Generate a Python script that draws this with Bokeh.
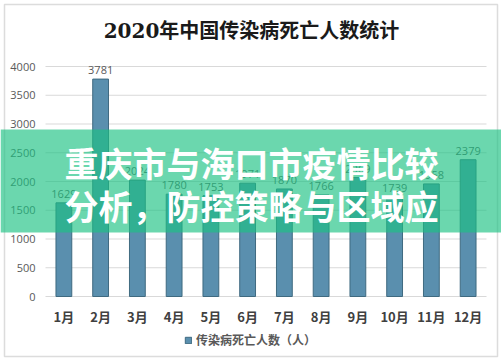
from bokeh.plotting import figure
from bokeh.models import (ColumnDataSource, Range1d, FixedTicker, BoxAnnotation,
                          Label, Legend, LegendItem)
from bokeh.core.properties import value
from bokeh.embed import file_html
from bokeh.resources import INLINE

# ---- data ----
months = ["1月", "2月", "3月", "4月", "5月", "6月", "7月", "8月", "9月", "10月", "11月", "12月"]
deaths = [1629, 3781, 2024, 1780, 1753, 1971, 1870, 1766, 2069, 1739, 1958, 2379]
y_ticks = [0, 500, 1000, 1500, 2000, 2500, 3000, 3500, 4000]
title_text = "2020年中国传染病死亡人数统计"
series_name = "传染病死亡人数（人）"
overlay_line1 = "重庆市与海口市疫情比较"
overlay_line2 = "分析，防控策略与区域应"

# ---- layout (page pixels) ----
W, H = 501, 362
PLOT_L, PLOT_R = 45, 486        # page x of the category area
Y0_PX, Y4000_PX = 296, 66       # page y of value 0 and value 4000
px_per_x = (PLOT_R - PLOT_L) / len(months)
px_per_y = (Y0_PX - Y4000_PX) / 4000


def dx(px):
    return (px - PLOT_L) / px_per_x


def dy(py):
    return (Y0_PX - py) / px_per_y


xs = [i + 0.5 for i in range(len(months))]
src = ColumnDataSource(dict(x=xs, v=deaths, t=[str(d) for d in deaths]))

p = figure(width=W, height=H,
           x_range=Range1d(dx(0), dx(W)), y_range=Range1d(dy(H), dy(0)),
           output_backend="svg", toolbar_location=None, min_border=0,
           min_border_left=0, min_border_right=0, min_border_top=0, min_border_bottom=0,
           background_fill_color="white", border_fill_color="white",
           outline_line_color=None)
p.title.visible = False

# horizontal value grid limited to the category area
p.segment(x0=0, x1=len(months), y0=y_ticks, y1=y_ticks, line_color="#d9d9d9", line_width=1)

bars = p.vbar(x="x", top="v", width=0.43, source=src,
              fill_color="#5a8fae", line_color="#3f6a80", line_width=1)

p.text(x="x", y="v", text="t", source=src, text_align="center", text_baseline="bottom",
       y_offset=-5, text_font_size="11px", text_color="#595959",
       text_font=value("Open Sans"))

# axes drawn inside the canvas at fixed locations
p.xgrid.visible = False
p.ygrid.visible = False

p.yaxis.fixed_location = 0
p.yaxis.ticker = FixedTicker(ticks=y_ticks)
p.yaxis.axis_line_color = None
p.yaxis.major_tick_line_color = None
p.yaxis.minor_tick_line_color = None
p.yaxis.major_tick_out = 0
p.yaxis.major_tick_in = 0
p.yaxis.major_label_text_font = "Open Sans"
p.yaxis.major_label_text_font_size = "11px"
p.yaxis.major_label_text_color = "#595959"
p.yaxis.major_label_standoff = 10

p.xaxis.fixed_location = 0
p.xaxis.bounds = (0, len(months))
p.xaxis.ticker = FixedTicker(ticks=xs)
p.xaxis.major_label_overrides = {x: m for x, m in zip(xs, months)}
p.xaxis.axis_line_color = None
p.xaxis.major_tick_line_color = None
p.xaxis.minor_tick_line_color = None
p.xaxis.major_tick_out = 0
p.xaxis.major_tick_in = 0
p.xaxis.major_label_text_font = "Noto Sans CJK SC"
p.xaxis.major_label_text_font_size = "13px"
p.xaxis.major_label_text_font_style = "bold"
p.xaxis.major_label_text_color = "#404040"
p.xaxis.major_label_standoff = 10

# chart title
p.add_layout(Label(x=dx(251), y=dy(30), text=title_text, text_align="center",
                   text_baseline="middle", text_font="'DejaVu Serif', 'Noto Sans CJK SC'",
                   text_font_size="20px", text_font_style="bold", text_color="#1a1a1a"))

legend = Legend(items=[LegendItem(label=series_name, renderers=[bars])],
                orientation="horizontal", location=(188 - 4, 14),
                border_line_color=None, background_fill_alpha=0,
                label_text_font="Noto Sans CJK SC", label_text_font_size="12px",
                label_text_font_style="bold", label_text_color="#595959",
                glyph_width=8, glyph_height=8, padding=4, margin=0,
                label_standoff=4)
p.add_layout(legend)

# chart border
p.add_layout(BoxAnnotation(left=dx(4), right=dx(497), top=dy(4), bottom=dy(356),
                           fill_alpha=0, line_color="#8a8a8a", line_width=1.5,
                           level="underlay", editable=False))

# green banner overlay across the full width
p.add_layout(BoxAnnotation(top=dy(129), bottom=dy(232),
                           fill_color="#1cc283", fill_alpha=0.65, line_alpha=0,
                           level="overlay", editable=False))

for txt, py in [(overlay_line1, 162), (overlay_line2, 205)]:
    p.add_layout(Label(x=dx(251), y=dy(py), text=txt, text_align="center",
                       text_baseline="middle", text_color="white",
                       text_font="Noto Sans CJK SC", text_font_size="34px",
                       text_font_style="bold", level="overlay"))

open("out.html", "w").write(file_html(p, INLINE))
